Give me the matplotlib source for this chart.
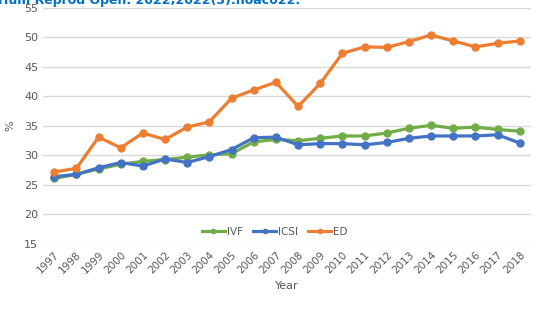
import matplotlib
matplotlib.use("Agg")
import matplotlib.pyplot as plt

years = [str(y) for y in range(1997, 2019)]
ivf = [26.1, 26.8, 27.7, 28.5, 29.0, 29.3, 29.7, 30.1, 30.3, 32.3, 32.7, 32.5,
       32.9, 33.3, 33.3, 33.8, 34.6, 35.1, 34.6, 34.8, 34.4, 34.1]
icsi = [26.4, 26.8, 27.9, 28.8, 28.2, 29.4, 28.8, 29.8, 31.0, 33.0, 33.1, 31.8,
        32.0, 32.0, 31.8, 32.2, 32.9, 33.3, 33.3, 33.3, 33.5, 32.1]
ed = [27.2, 27.8, 33.1, 31.3, 33.8, 32.7, 34.8, 35.7, 39.7, 41.1, 42.4, 38.3,
      42.2, 47.3, 48.4, 48.3, 49.3, 50.4, 49.4, 48.4, 49.0, 49.4]

series = [("IVF", ivf, "#70AD47"), ("ICSI", icsi, "#4472C4"), ("ED", ed, "#ED7D31")]
text_color = "#595959"

fig = plt.figure(figsize=(5.53, 3.16), dpi=100)
ax = fig.add_axes([0.078, 0.228, 0.882, 0.747])

x = list(range(len(years)))
for name, vals, color in series:
    ax.plot(x, vals, color=color, lw=2.3, marker="o", ms=5, label=name)

ax.set_xlim(-0.5, len(years) - 0.5)
ax.set_ylim(15, 55)
ax.set_yticks(range(15, 56, 5))
ax.set_xticks(x)
ax.set_xticklabels(years, rotation=45, ha="right", rotation_mode="anchor")
ax.tick_params(axis="both", length=0, colors=text_color, labelsize=7.5)
ax.tick_params(axis="y", labelsize=8)
ax.tick_params(axis="x", pad=4)
ax.grid(axis="y", color="#D9D9D9", lw=1)
ax.set_axisbelow(True)
for s in ax.spines.values():
    s.set_visible(False)

ax.set_xlabel("Year", color=text_color, fontsize=8)
ax.set_ylabel("%", color=text_color, fontsize=8, labelpad=6)

ax.legend(loc="lower center", bbox_to_anchor=(0.475, -0.01), ncol=3, frameon=False,
          fontsize=7.5, labelcolor=text_color, handlelength=2.2, columnspacing=1.0,
          handletextpad=0.2, markerscale=0.6)

# citation line, clipped at the top edge as in the source screenshot
fig.text(-0.004, 1 - 4 / 316, "Hum Reprod Open. 2022;2022(3):hoac022.", color="#0070C0",
         fontsize=9, fontweight="bold", va="baseline", ha="left")

fig.savefig("out.png", dpi=100)
